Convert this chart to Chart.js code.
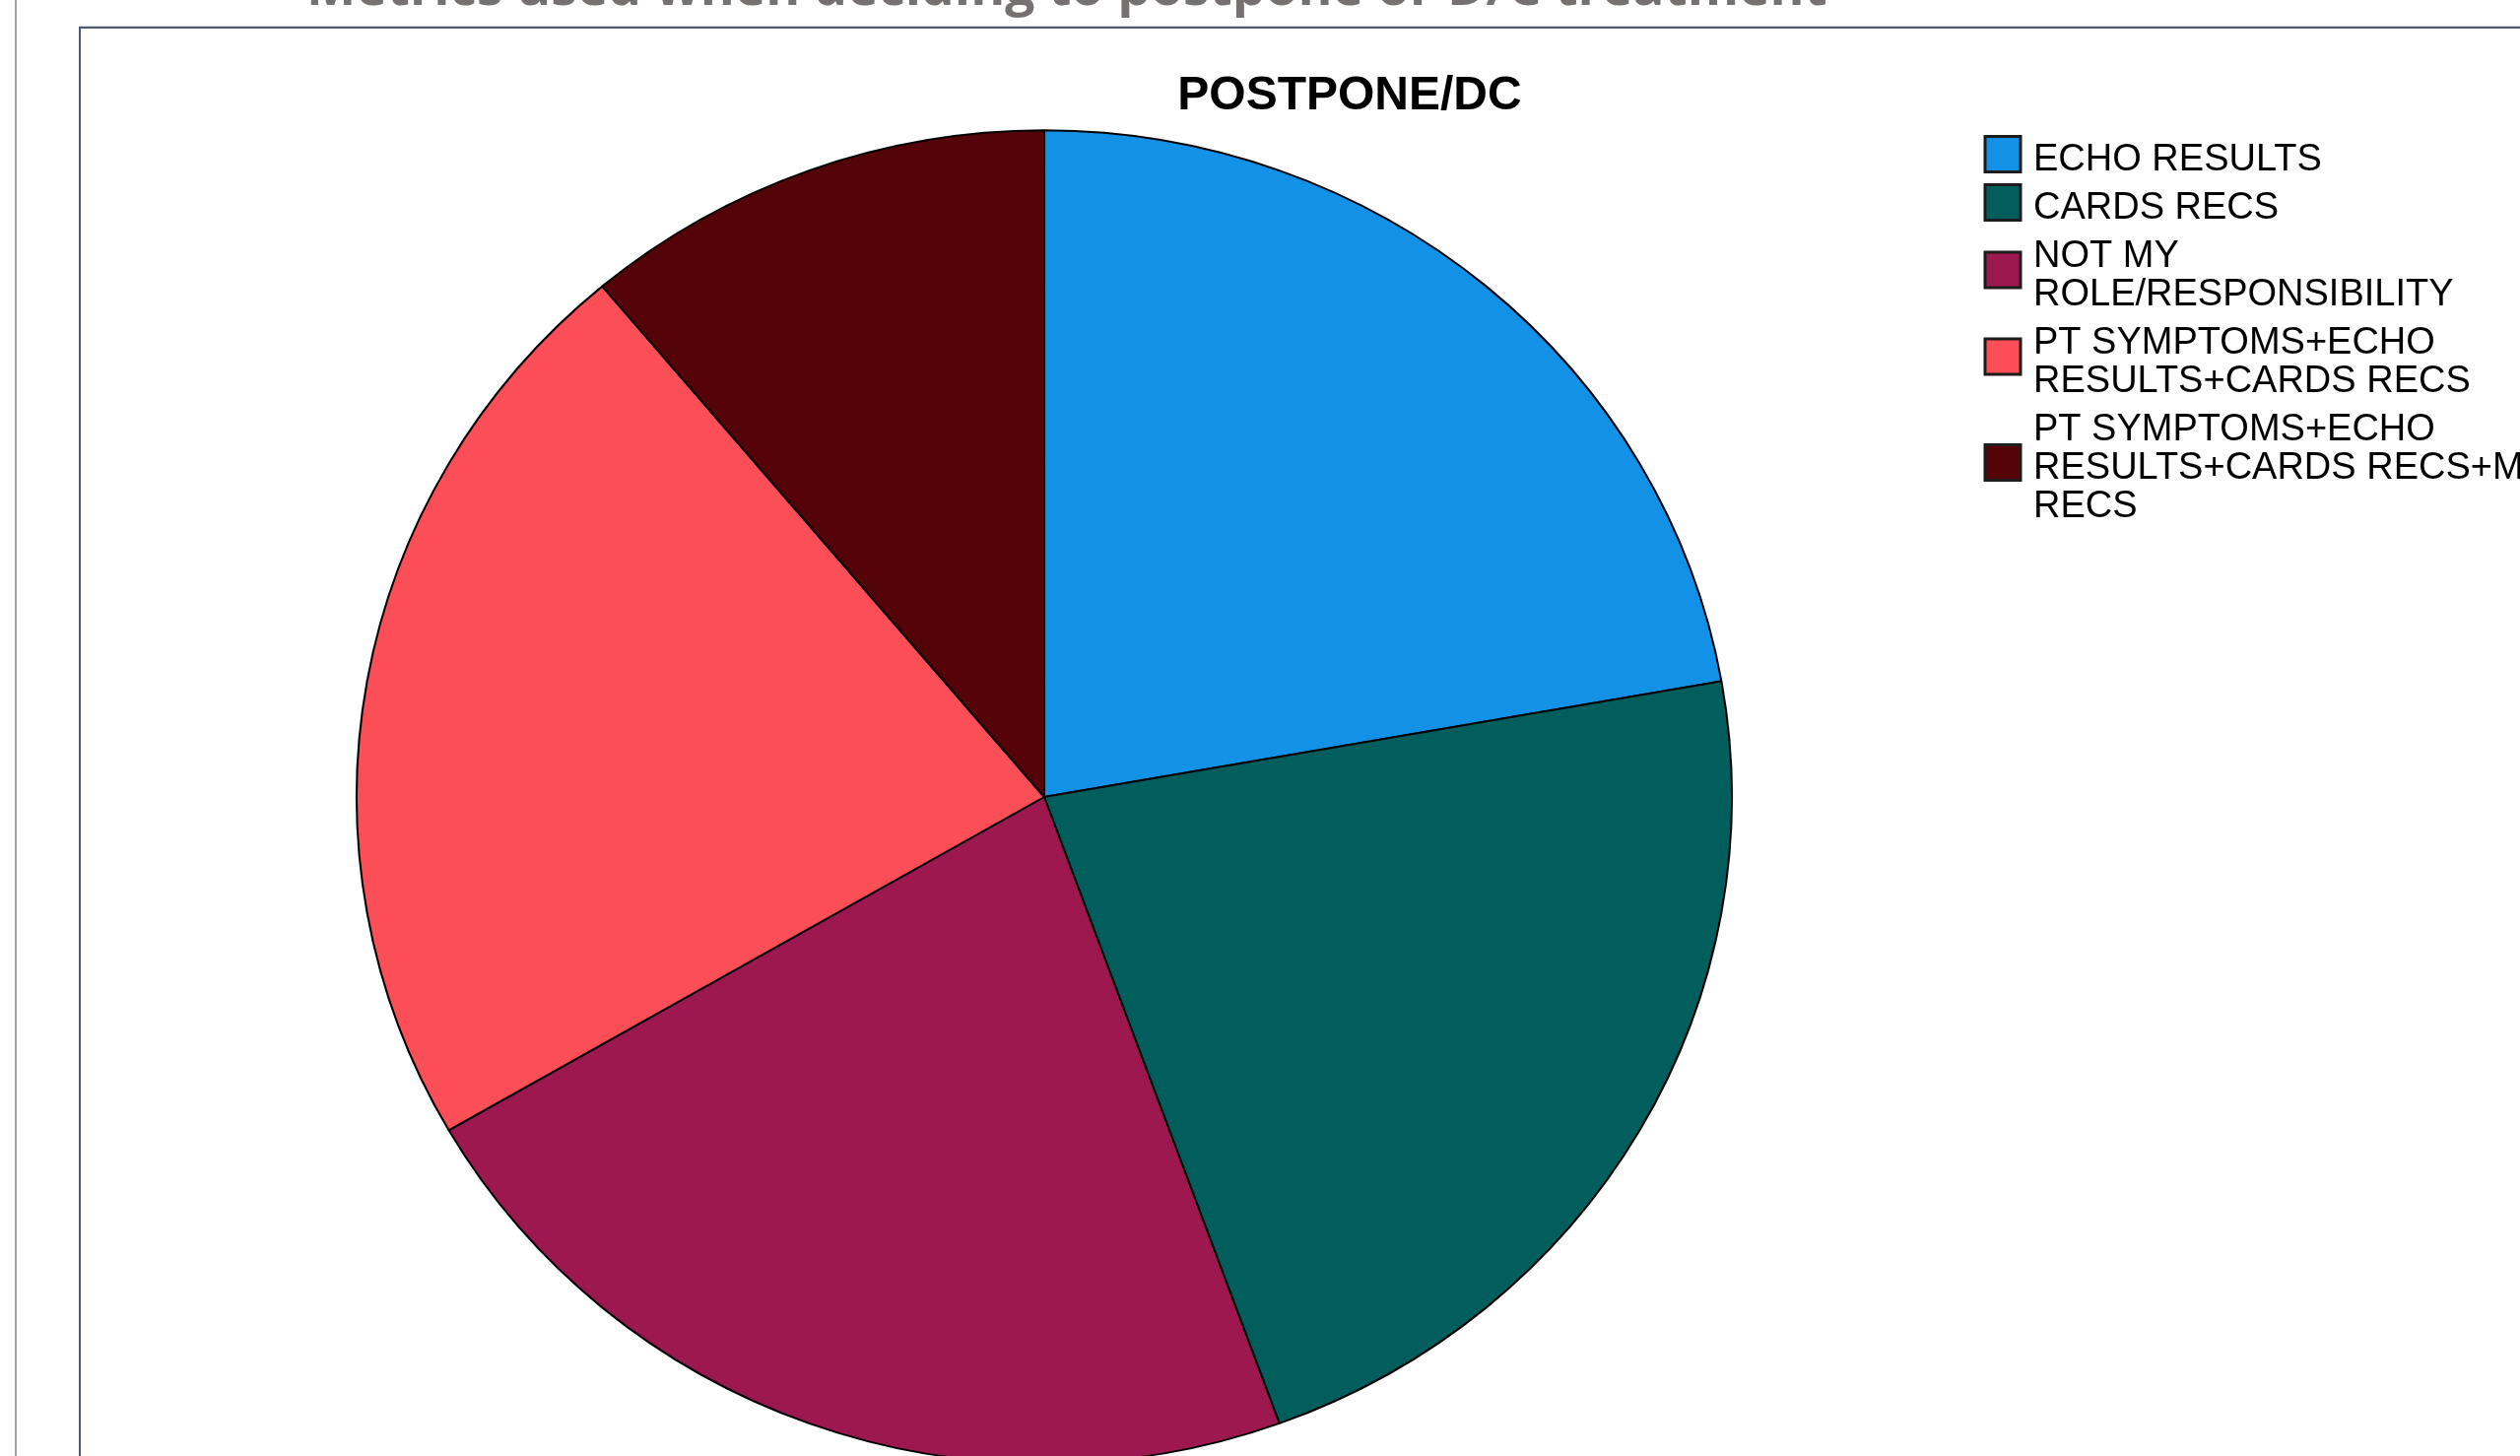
<!DOCTYPE html>
<html><head><meta charset="utf-8">
<script src="https://cdn.jsdelivr.net/npm/chart.js@4.4.1/dist/chart.umd.min.js"></script>
<style>
html,body{margin:0;padding:0;background:#fff;overflow:hidden;width:2558px;height:1478px;}
#wrap{position:relative;width:2558px;height:1478px;overflow:hidden;}
.vline{position:absolute;left:15px;top:0;width:2px;height:1478px;background:#a3a3a3;}
.frame{position:absolute;left:80px;top:27px;width:3000px;height:2000px;border-left:2px solid #4a5b73;border-top:2px solid #4a5b73;box-shadow:0 -1px 0 #d8dce2;}
canvas{position:absolute;left:0;top:0;}
</style></head>
<body><div id="wrap"><div class="vline"></div><div class="frame"></div><canvas id="c" width="2558" height="1600"></canvas></div>
<script>
const pageHeading = 'Metrics used when deciding to postpone or D/C treatment';
const chartTitle = 'POSTPONE/DC';
const categories = ['ECHO RESULTS', 'CARDS RECS', 'NOT MY ROLE/RESPONSIBILITY', 'PT SYMPTOMS+ECHO RESULTS+CARDS RECS', 'PT SYMPTOMS+ECHO RESULTS+CARDS RECS+MD RECS'];
const legendLines = [['ECHO RESULTS'], ['CARDS RECS'], ['NOT MY', 'ROLE/RESPONSIBILITY'], ['PT SYMPTOMS+ECHO', 'RESULTS+CARDS RECS'], ['PT SYMPTOMS+ECHO', 'RESULTS+CARDS RECS+MD', 'RECS']];
const counts = [2, 2, 2, 2, 1];
const sliceColors = ['#1391e6', '#015e5c', '#9e1850', '#fb4e57', '#540409'];

// the source pie is drawn slightly oval (wider than tall)
const ovalStretch = {
  id: 'ovalStretch',
  beforeDatasetsDraw(chart) {
    const a = chart.chartArea;
    const cx = (a.left + a.right) / 2, cy = (a.top + a.bottom) / 2;
    const ctx = chart.ctx;
    ctx.save();
    ctx.translate(cx, cy);
    ctx.scale(1.016, 0.985);
    ctx.translate(-cx, -cy);
  },
  afterDatasetsDraw(chart) {
    chart.ctx.restore();
  }
};

const annot = {
  id: 'annot',
  afterDraw(chart) {
    const ctx = chart.ctx;
    ctx.save();
    // page heading (cut off at top)
    ctx.fillStyle = '#767171';
    ctx.textBaseline = 'alphabetic';
    ctx.textAlign = 'left';
    let size = 50;
    ctx.font = 'bold ' + size + 'px "Open Sans"';
    const w = ctx.measureText(pageHeading).width;
    size = size * 1544 / w;
    ctx.font = 'bold ' + size.toFixed(2) + 'px "Open Sans"';
    ctx.fillText(pageHeading, 311, 5);
    // chart title
    ctx.fillStyle = '#000';
    ctx.font = 'bold 48px "Liberation Sans"';
    ctx.textAlign = 'center';
    ctx.fillText(chartTitle, 1370, 111);
    // legend
    ctx.textAlign = 'left';
    ctx.font = '38px "Liberation Sans"';
    const bg = chart.data.datasets[0].backgroundColor;
    let base = 173;
    legendLines.forEach((lines, i) => {
      const capTop = base - 27;
      const last = base + 39 * (lines.length - 1);
      const cy = (capTop + last) / 2 - 3;
      ctx.fillStyle = bg[i];
      ctx.fillRect(2015, cy - 18, 36, 36);
      ctx.strokeStyle = '#1c1c1c';
      ctx.lineWidth = 3;
      ctx.strokeRect(2015, cy - 18, 36, 36);
      ctx.fillStyle = '#000';
      lines.forEach((t, j) => ctx.fillText(t, 2064, base + 39 * j));
      base = last + 49;
    });
    ctx.restore();
  }
};

new Chart(document.getElementById('c'), {
  type: 'pie',
  data: {
    labels: categories,
    datasets: [{ data: counts, backgroundColor: sliceColors, borderColor: '#000', borderWidth: 2 }]
  },
  options: {
    responsive: false,
    animation: false,
    layout: { padding: { left: 372, top: 121, right: 810, bottom: 103 } },
    plugins: { legend: { display: false }, title: { display: false }, tooltip: { enabled: false } }
  },
  plugins: [ovalStretch, annot]
});
</script>
</body></html>
